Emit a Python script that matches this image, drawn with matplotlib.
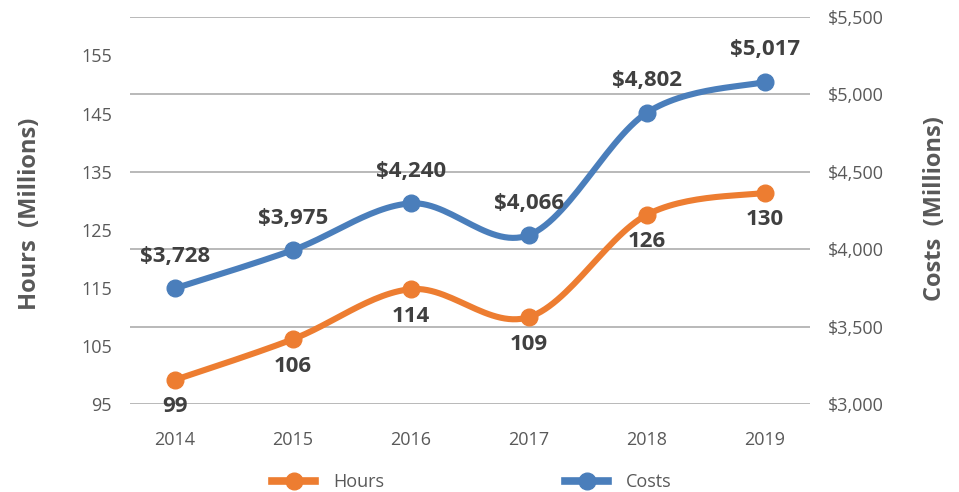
import numpy as np
import matplotlib
matplotlib.use("Agg")
import matplotlib.pyplot as plt
from matplotlib.lines import Line2D

# ---- data ----
years = ["2014", "2015", "2016", "2017", "2018", "2019"]
hours = [99.2, 106.2, 114.8, 110.0, 127.6, 131.4]
hours_labels = ["99", "106", "114", "109", "126", "130"]
costs = [3748, 3995, 4296, 4092, 4881, 5080]
costs_labels = ["$3,728", "$3,975", "$4,240", "$4,066", "$4,802", "$5,017"]
hours_ticks = [95, 105, 115, 125, 135, 145, 155]
costs_ticks = [3000, 3500, 4000, 4500, 5000, 5500]

ORANGE = "#ED7D31"
BLUE = "#4A7EBB"
GRID = "#A6A6A6"
TICKC = "#595959"
LABC = "#404040"

plt.rcParams['font.family'] = ['Open Sans', 'DejaVu Sans']


def smooth(xs, ys, n=30):
    xs = np.asarray(xs, float)
    ys = np.asarray(ys, float)
    px = np.concatenate([[xs[0]], xs, [xs[-1]]])
    py = np.concatenate([[ys[0]], ys, [ys[-1]]])
    ox, oy = [], []
    for i in range(1, len(px) - 2):
        p0x, p1x, p2x, p3x = px[i - 1], px[i], px[i + 1], px[i + 2]
        p0y, p1y, p2y, p3y = py[i - 1], py[i], py[i + 1], py[i + 2]
        c1x = p1x + (p2x - p0x) / 6
        c1y = p1y + (p2y - p0y) / 6
        c2x = p2x - (p3x - p1x) / 6
        c2y = p2y - (p3y - p1y) / 6
        t = np.linspace(0, 1, n)
        bx = (1 - t) ** 3 * p1x + 3 * (1 - t) ** 2 * t * c1x + 3 * (1 - t) * t ** 2 * c2x + t ** 3 * p2x
        by = (1 - t) ** 3 * p1y + 3 * (1 - t) ** 2 * t * c1y + 3 * (1 - t) * t ** 2 * c2y + t ** 3 * p2y
        ox.extend(bx)
        oy.extend(by)
    return np.array(ox), np.array(oy)


fig = plt.figure(figsize=(9.59, 4.92), dpi=100)
ax = fig.add_axes([130 / 959, 1 - 404.3 / 492, 680 / 959, (404.3 - 16.7) / 492])
ax2 = ax.twinx()

x = np.arange(len(years))
xlo = -45 / 118
ax.set_xlim(xlo, len(years) - 1 - xlo)

ax.set_ylim(95, 95 + (404.3 - 16.7) / 5.815)
ax2.set_ylim(3000, 5500)

# gridlines from cost axis
ax2.set_yticks(costs_ticks)
ax2.set_yticklabels(["${:,}".format(v) for v in costs_ticks])
ax2.yaxis.grid(True, color=GRID, linewidth=1.1)
ax.set_yticks(hours_ticks)
ax.set_xticks(x)
ax.set_xticklabels(years)

for a in (ax, ax2):
    for s in a.spines.values():
        s.set_visible(False)
    a.tick_params(length=0, labelsize=13, labelcolor=TICKC)
ax.tick_params(axis='y', pad=13)
ax2.tick_params(axis='y', pad=13)
ax.tick_params(axis='x', pad=19)

ax.set_zorder(ax2.get_zorder() + 1)
ax.patch.set_visible(False)


def cost2hour(v):
    # map cost values into the left axis units (both axes share the plot box)
    v = np.asarray(v, float)
    clo, chi = ax2.get_ylim()
    frac = (v - clo) / (chi - clo)
    lo, hi = ax.get_ylim()
    return lo + frac * (hi - lo)


LW = 4.4
MS = 12

# hours line (left axis)
sx, sy = smooth(x, hours)
ax.plot(sx, sy, color=ORANGE, linewidth=LW, solid_capstyle='round', zorder=3)
ax.plot(x, hours, 'o', color=ORANGE, markersize=MS, zorder=4)
for xi, yi, lab in zip(x, hours, hours_labels):
    ax.annotate(lab, (xi, yi), xytext=(0, -19.5), textcoords='offset points',
                ha='center', va='center', fontsize=16, fontweight='bold', color=LABC, zorder=5)

# costs line (right axis scale)
cx, cy = smooth(x, costs)
ax.plot(cx, cost2hour(cy), color=BLUE, linewidth=LW, solid_capstyle='round', zorder=3)
ax.plot(x, cost2hour(costs), 'o', color=BLUE, markersize=MS, zorder=4)
for xi, yi, lab in zip(x, cost2hour(costs), costs_labels):
    ax.annotate(lab, (xi, yi), xytext=(0, 23), textcoords='offset points',
                ha='center', va='center', fontsize=16, fontweight='bold', color=LABC, zorder=5)

fig.text(30 / 959, 1 - 214 / 492, "Hours  (Millions)", rotation=90, ha='center', va='center',
         fontsize=17, fontweight='bold', color=TICKC)
fig.text(935 / 959, 1 - 209 / 492, "Costs  (Millions)", rotation=90, ha='center', va='center',
         fontsize=17, fontweight='bold', color=TICKC)

handles = [Line2D([0], [0], color=ORANGE, linewidth=5.5, marker='o', markersize=12),
           Line2D([0], [0], color=BLUE, linewidth=5.5, marker='o', markersize=12)]
fig.legend(handles, ["Hours", "Costs"], loc='center', bbox_to_anchor=(472 / 959, 1 - 482 / 492),
           ncol=2, frameon=False, fontsize=13, handlelength=2.4, handletextpad=1.0,
           columnspacing=10.0, labelcolor=TICKC)

fig.savefig("out.png", dpi=100)
